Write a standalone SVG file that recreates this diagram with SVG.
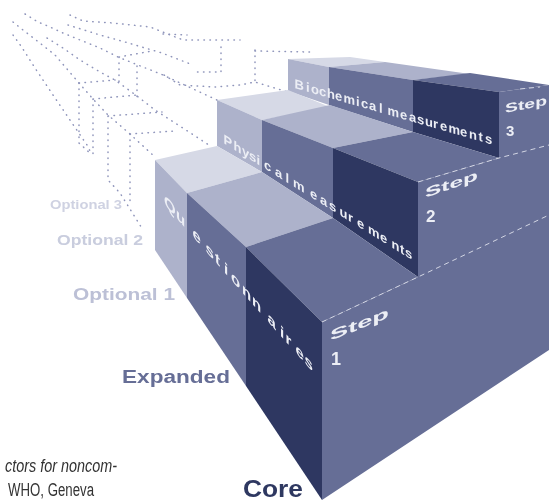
<svg xmlns="http://www.w3.org/2000/svg" width="549" height="501" viewBox="0 0 549 501">
<style>
.a{fill:#2e3761}.b{fill:#666e96}.c{fill:#adb2cb}.d{fill:#d6d9e6}
.w{fill:none;stroke:#8f95bb;stroke-width:1.5;stroke-dasharray:.5 5.5;stroke-linecap:round}
.e{fill:none;stroke:#d3d6e4;stroke-width:1;stroke-dasharray:5 4}
.s{font-family:"Liberation Sans",Arial,sans-serif;font-weight:bold;fill:#eceef5}
.l{font-family:"Liberation Sans",Arial,sans-serif;font-weight:bold}
.k{font-family:"Liberation Sans",Arial,sans-serif;fill:#333;font-size:18px}
</style>
<defs>
<filter id="b1" x="-5%" y="-5%" width="110%" height="110%"><feGaussianBlur stdDeviation="0.55"/></filter>
<filter id="b2" x="-5%" y="-5%" width="110%" height="110%"><feGaussianBlur stdDeviation="0.5"/></filter>
</defs>
<g id="wireframe" filter="url(#b1)">
<path class="w" d="M13 35L21 46L35 68L53 95L72 123L87 145L92 155"/>
<path class="w" d="M13 22L23 30L36 40L55 55L79 83L93 99L108 115L130 134L155 157"/>
<path class="w" d="M25 14L38 22L50 27L63 33L80 40L100 48L118 57L163 75L217 100"/>
<path class="w" d="M47 38L63 48L80 60L100 72L115 80L137 96L155 110L212 147"/>
<path class="w" d="M70 15L83 21L113 23L150 27L183 40L222 40L240 40"/>
<path class="w" d="M68 25L100 35L125 42L162 53L193 65"/>
<path class="w" d="M164 75L180 85L215 87L240 85L255 82L288 92"/>
<path class="w" d="M255 51L310 52"/>
<path class="w" d="M79 83V143L92 155M79 83L115 80"/>
<path class="w" d="M93 99V155M93 99L137 95"/>
<path class="w" d="M108 116V180L120 193L143 230M108 116L162 112"/>
<path class="w" d="M130 134V205M130 134L175 131"/>
<path class="w" d="M119 57V82M119 57L152 51"/>
<path class="w" d="M137 66V97"/>
<path class="w" d="M221 47V72L197 72"/>
<path class="w" d="M255 50V83"/>
<path class="w" d="M163 34L187 35"/>
</g>
<g id="blocks">
<polygon class="b" points="322,322 322,500 549,350 549,85 499,92 499,158 418,182 418,277"/>
<polygon class="d" points="288,59 329,67 385,62 350,57"/>
<polygon class="c" points="329,67 413,80 470,74 385,62"/>
<polygon class="b" points="413,80 499,92 549,85 470,73"/>
<polygon class="c" points="288,59 329,67 329,105 288,91"/>
<polygon class="b" points="329,67 413,80 413,132 329,105"/>
<polygon class="a" points="413,80 499,92 499,158 413,132"/>
<polygon class="d" points="217,100 288,90 330,107 262,120"/>
<polygon class="c" points="262,120 330,105 413,132 333,148"/>
<polygon class="b" points="333,148 413,132 499,158 418,182"/>
<polygon class="c" points="217,100 262,120 262,172 217,146"/>
<polygon class="b" points="262,120 333,148 333,218 262,172"/>
<polygon class="a" points="333,148 418,182 418,277 333,218"/>
<polygon class="d" points="155,160 217,146 262,172 187,193"/>
<polygon class="c" points="187,193 262,172 333,218 246,247"/>
<polygon class="b" points="246,247 333,218 418,277 322,322"/>
<polygon class="c" points="155,160 187,193 187,298 155,250"/>
<polygon class="b" points="187,193 246,247 246,386 187,298"/>
<polygon class="a" points="246,247 322,322 322,500 246,386"/>
<path class="e" d="M322 322L418 277L549 215M418 182L499 158L549 145M520 89L540 87"/>
</g>
<g id="face-labels" filter="url(#b2)">
<text class="s" font-size="15" transform="matrix(1 1.13 0 1 164 204)" x="0 12 28.5 41.5 51 60 67 78 88 103.5 116 121.5 131.5 140.5" y="0">Questionnaires</text>
<text class="s" font-size="13" transform="matrix(1 .62 0 1 223.5 143)" x="0 10 18.5 25.5 33 40.5 51.5 62 67.5 69.5 86.5 96.5 105.5 116 124.5 133.5 144.5 156.5 168 176.5 181.5" y="0">Physical measurements</text>
<text class="s" font-size="13" transform="matrix(1 .286 0 1 294.5 88)" x="0 11.5 16.5 24.5 32.5 40.5 49 61.5 66.5 74.5 84.5 90.5 93 105.5 114.5 122.5 130.5 138.5 145.5 154 165.5 174.5 184 190.5" y="0">Biochemical measurements</text>
<text class="s" font-size="15" transform="matrix(1 -.4 0 1 330 341)" textLength="59" lengthAdjust="spacingAndGlyphs">Step</text>
<text class="s" font-size="18" x="331" y="365">1</text>
<text class="s" font-size="14" transform="matrix(1 -.35 0 1 425 198)" textLength="53" lengthAdjust="spacingAndGlyphs">Step</text>
<text class="s" font-size="17" x="426" y="222">2</text>
<text class="s" font-size="13" transform="matrix(1 -.2 0 1 505 113)" textLength="42" lengthAdjust="spacingAndGlyphs">Step</text>
<text class="s" font-size="15" x="506" y="136">3</text>
</g>
<g id="level-labels" filter="url(#b2)">
<text class="l" fill="#cfd2e2" font-size="13" x="50" y="209" textLength="72" lengthAdjust="spacingAndGlyphs">Optional 3</text>
<text class="l" fill="#c9cdde" font-size="15" x="57" y="245" textLength="86" lengthAdjust="spacingAndGlyphs">Optional 2</text>
<text class="l" fill="#bcc0d6" font-size="17" x="73" y="300" textLength="102" lengthAdjust="spacingAndGlyphs">Optional 1</text>
<text class="l" fill="#666e96" font-size="18" x="122" y="383" textLength="108" lengthAdjust="spacingAndGlyphs">Expanded</text>
<text class="l" fill="#2e3761" font-size="23" x="243" y="497" textLength="60" lengthAdjust="spacingAndGlyphs">Core</text>
</g>
<g id="caption">
<text class="k" font-style="italic" x="5" y="472" textLength="112" lengthAdjust="spacingAndGlyphs">ctors for noncom-</text>
<text class="k" x="8" y="496" textLength="86" lengthAdjust="spacingAndGlyphs">WHO, Geneva</text>
</g>
</svg>
